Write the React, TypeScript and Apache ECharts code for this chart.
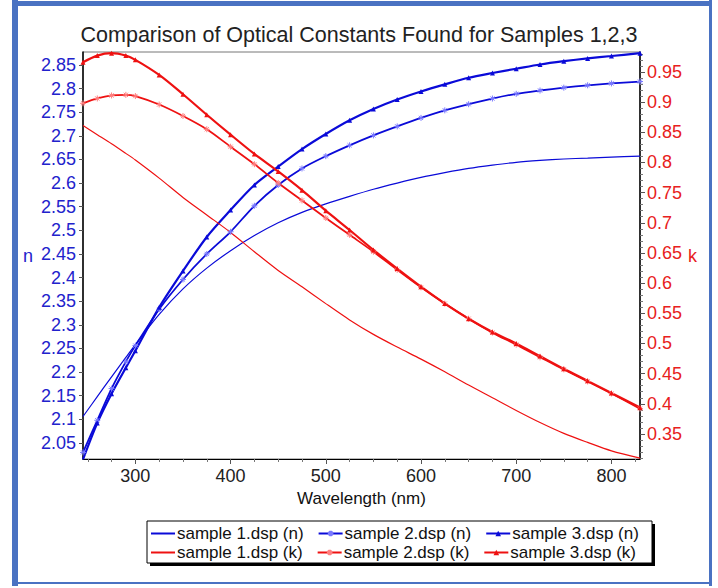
import { useEffect, useRef } from "react";
import * as echarts from "echarts";

const wavelengths = [245, 260, 275, 290, 300, 325, 350, 375, 400, 425, 450, 475, 500, 525, 550, 575, 600, 625, 650, 675, 700, 725, 750, 775, 800, 830];

const sample1N = [2.106, 2.148, 2.19, 2.231, 2.258, 2.322, 2.376, 2.42, 2.457, 2.489, 2.516, 2.538, 2.556, 2.572, 2.587, 2.6, 2.612, 2.622, 2.631, 2.638, 2.644, 2.648, 2.651, 2.653, 2.655, 2.657];
const sample2N = [2.03, 2.098, 2.165, 2.222, 2.256, 2.333, 2.396, 2.45, 2.497, 2.552, 2.596, 2.631, 2.657, 2.68, 2.701, 2.72, 2.738, 2.754, 2.767, 2.779, 2.789, 2.796, 2.802, 2.807, 2.811, 2.815];
const sample3N = [2.015, 2.092, 2.154, 2.209, 2.245, 2.337, 2.414, 2.486, 2.543, 2.596, 2.635, 2.672, 2.704, 2.733, 2.757, 2.777, 2.794, 2.809, 2.823, 2.833, 2.842, 2.851, 2.858, 2.864, 2.869, 2.875];

const sample1K = [0.861, 0.846, 0.831, 0.815, 0.804, 0.774, 0.742, 0.713, 0.684, 0.652, 0.621, 0.594, 0.566, 0.539, 0.515, 0.494, 0.474, 0.453, 0.431, 0.41, 0.389, 0.369, 0.351, 0.336, 0.322, 0.31];
const sample2K = [0.898, 0.906, 0.911, 0.912, 0.91, 0.896, 0.877, 0.855, 0.826, 0.797, 0.766, 0.737, 0.708, 0.68, 0.652, 0.622, 0.593, 0.566, 0.541, 0.518, 0.498, 0.477, 0.457, 0.437, 0.417, 0.392];
const sample3K = [0.966, 0.977, 0.981, 0.977, 0.97, 0.945, 0.913, 0.879, 0.846, 0.814, 0.785, 0.754, 0.72, 0.688, 0.655, 0.624, 0.594, 0.566, 0.541, 0.519, 0.5, 0.479, 0.458, 0.438, 0.418, 0.394];

const xLabelTicks = [300, 400, 500, 600, 700, 800];
const xMinorTicks = [250, 275, 325, 350, 375, 425, 450, 475, 525, 550, 575, 625, 650, 675, 725, 750, 775, 825];
const nLabelTicks = [2.05, 2.1, 2.15, 2.2, 2.25, 2.3, 2.35, 2.4, 2.45, 2.5, 2.55, 2.6, 2.65, 2.7, 2.75, 2.8, 2.85];
const kLabelTicks = [0.35, 0.4, 0.45, 0.5, 0.55, 0.6, 0.65, 0.7, 0.75, 0.8, 0.85, 0.9, 0.95];
const kMinorTicks = [0.31, 0.32, 0.33, 0.34, 0.36, 0.37, 0.38, 0.39, 0.41, 0.42, 0.43, 0.44, 0.46, 0.47, 0.48, 0.49, 0.51, 0.52, 0.53, 0.54, 0.56, 0.57, 0.58, 0.59, 0.61, 0.62, 0.63, 0.64, 0.66, 0.67, 0.68, 0.69, 0.71, 0.72, 0.73, 0.74, 0.76, 0.77, 0.78, 0.79, 0.81, 0.82, 0.83, 0.84, 0.86, 0.87, 0.88, 0.89, 0.91, 0.92, 0.93, 0.94, 0.96, 0.97, 0.98];

const names = ["sample 1.dsp (n)", "sample 2.dsp (n)", "sample 3.dsp (n)", "sample 1.dsp (k)", "sample 2.dsp (k)", "sample 3.dsp (k)"];

const BLUE = "#0a0ad8";
const BLUE_LIGHT = "#7a7aff";
const RED = "#ee1111";
const RED_LIGHT = "#ff8080";
const FONT = "Liberation Sans, Arial, sans-serif";
const STAR = "path://M0,5L10,5M5,0L5,10M1.5,1.5L8.5,8.5M8.5,1.5L1.5,8.5";

const pairs = (ys: number[]) => wavelengths.map((x, i) => [x, ys[i]]);

export default function App() {
  const ref = useRef<HTMLDivElement>(null);
  useEffect(() => {
    document.body.style.margin = "0";
    if (!ref.current) return;
    const chart = echarts.init(ref.current, null, { renderer: "svg" });
    const plain = (name: string, data: number[], color: string, yAxisIndex: number) => ({
      name, type: "line", data: pairs(data), yAxisIndex, smooth: 0.3, showSymbol: false, symbol: "none",
      color, lineStyle: { color, width: 1.2 },
    });
    const star = (name: string, data: number[], color: string, light: string, yAxisIndex: number) => ({
      name, type: "line", data: pairs(data), yAxisIndex, smooth: 0.3, symbol: STAR, symbolSize: 6,
      color: light, lineStyle: { color, width: 1.8 },
      itemStyle: { color: light, borderColor: light, borderWidth: 1 },
    });
    const tri = (name: string, data: number[], color: string, yAxisIndex: number) => ({
      name, type: "line", data: pairs(data), yAxisIndex, smooth: 0.3, symbol: "triangle", symbolSize: 5,
      color, lineStyle: { color, width: 2.2 }, itemStyle: { color },
    });
    const fmt = (v: number) => String(+Number(v).toFixed(2));
    const legendItem = (i: number) =>
      i % 3 === 0 ? { name: names[i], itemStyle: { color: "transparent", borderWidth: 0 } } : { name: names[i] };
    const legendCommon = {
      left: 150, itemGap: 14, itemWidth: 24, itemHeight: 7, padding: 0,
      textStyle: { fontSize: 17, color: "#111", fontFamily: FONT, padding: [0, 0, 0, -3] },
    };
    chart.setOption({
      animation: false,
      backgroundColor: "#ffffff",
      title: {
        text: "Comparison of Optical Constants Found for Samples 1,2,3",
        left: "center", top: 19,
        textStyle: { fontSize: 21.5, fontWeight: "normal", color: "#222", fontFamily: FONT },
      },
      grid: { left: 83, right: 78, top: 52, bottom: 129, show: true, borderColor: "#777", borderWidth: 1 },
      legend: [
        { ...legendCommon, data: [0, 1, 2].map(legendItem), top: 525 },
        { ...legendCommon, data: [3, 4, 5].map(legendItem), top: 544 },
      ],
      xAxis: [
        {
          type: "value", min: 245, max: 830,
          name: "Wavelength (nm)", nameLocation: "middle", nameGap: 28,
          nameTextStyle: { fontSize: 17, color: "#111", fontFamily: FONT },
          axisLine: { show: true, lineStyle: { color: "#000", width: 1 } },
          axisTick: { show: true, customValues: xLabelTicks, length: 5, lineStyle: { color: "#555" } },
          axisLabel: { customValues: xLabelTicks, fontSize: 18, color: "#222", fontFamily: FONT, margin: 8 },
          splitLine: { show: false },
        },
        {
          type: "value", min: 245, max: 830, position: "bottom",
          axisLine: { show: false },
          axisTick: { show: true, customValues: xMinorTicks, length: 3, lineStyle: { color: "#777" } },
          axisLabel: { show: false },
          splitLine: { show: false },
        },
      ],
      yAxis: [
        {
          type: "value", min: 2.016, max: 2.8775, position: "left",
          name: "n", nameLocation: "middle", nameGap: 50, nameRotate: 0,
          nameTextStyle: { fontSize: 18, color: "#2222cc", fontFamily: FONT },
          axisLine: { show: true, lineStyle: { color: "#000", width: 1.5 } },
          axisTick: { show: true, customValues: nLabelTicks, length: 4, lineStyle: { color: "#555" } },
          axisLabel: { customValues: nLabelTicks, formatter: fmt, fontSize: 18, color: "#2222cc", fontFamily: FONT, margin: 7 },
          splitLine: { show: false },
        },
        {
          type: "value", min: 0.3085, max: 0.983, position: "right",
          name: "k", nameLocation: "middle", nameGap: 47, nameRotate: 0,
          nameTextStyle: { fontSize: 18, color: "#e82020", fontFamily: FONT },
          axisLine: { show: true, lineStyle: { color: "#000", width: 1.5 } },
          axisTick: { show: true, customValues: kLabelTicks, length: 5, lineStyle: { color: "#555" } },
          axisLabel: { customValues: kLabelTicks, formatter: fmt, fontSize: 18, color: "#e82020", fontFamily: FONT, margin: 7 },
          splitLine: { show: false },
        },
        {
          type: "value", min: 0.3085, max: 0.983, position: "right",
          axisLine: { show: false },
          axisTick: { show: true, customValues: kMinorTicks, length: 3, lineStyle: { color: "#777" } },
          axisLabel: { show: false },
          splitLine: { show: false },
        },
      ],
      graphic: [
        { type: "rect", shape: { x: 12, y: 0, width: 6, height: 586 }, style: { fill: "#4a72c2" } },
        { type: "rect", shape: { x: 12, y: 1, width: 700, height: 5 }, style: { fill: "#4a72c2" } },
        { type: "rect", shape: { x: 709, y: 0, width: 3, height: 586 }, style: { fill: "#4a72c2" } },
        { type: "rect", shape: { x: 12, y: 582, width: 700, height: 2 }, style: { fill: "#4a72c2" } },
        { type: "rect", shape: { x: 150, y: 524, width: 505, height: 42 }, style: { fill: "#000" }, z: -1 },
        { type: "rect", shape: { x: 147, y: 521, width: 505, height: 42 }, style: { fill: "#fff", stroke: "#000", lineWidth: 1 }, z: -1 },
      ],
      series: [
        plain(names[0], sample1N, BLUE, 0),
        star(names[1], sample2N, BLUE, BLUE_LIGHT, 0),
        tri(names[2], sample3N, BLUE, 0),
        plain(names[3], sample1K, RED, 1),
        star(names[4], sample2K, RED, RED_LIGHT, 1),
        tri(names[5], sample3K, RED, 1),
      ],
    });
    return () => chart.dispose();
  }, []);
  return <div ref={ref} style={{ width: 718, height: 588 }} />;
}
